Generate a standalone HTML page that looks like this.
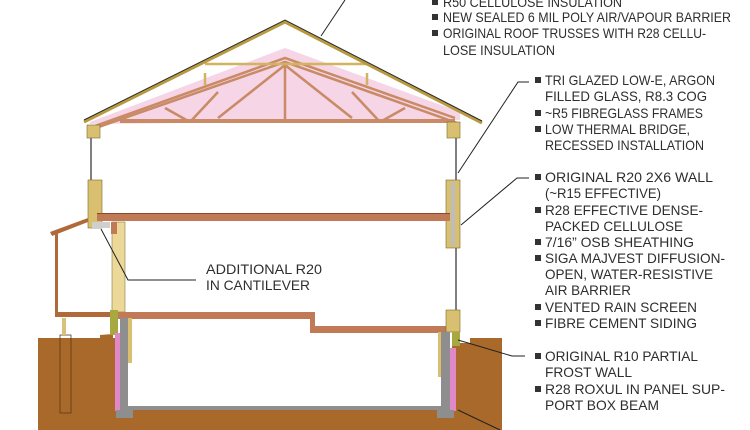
<!DOCTYPE html>
<html><head><meta charset="utf-8"><style>
html,body{margin:0;padding:0;background:#fff;width:750px;height:430px;overflow:hidden}
svg{display:block}
text{font-family:"Liberation Sans",sans-serif;font-size:14px;fill:#2e2e2e}
</style></head><body>
<svg width="750" height="430" viewBox="0 0 750 430" xmlns="http://www.w3.org/2000/svg">
<path d="M38 340 L100 338 L100 335 L113 334 L113 430 Z" fill="#a8692a"/>
<rect x="38" y="338" width="80" height="92" fill="#a8692a"/>
<rect x="110" y="410" width="350" height="20" fill="#a8692a"/>
<path d="M452 343 L470 343 L470 338 L502 338 L502 430 L452 430 Z" fill="#a8692a"/>
<rect x="60" y="335" width="11" height="78" fill="none" stroke="#5a3a1a" stroke-width="0.8"/>
<rect x="62" y="318" width="4" height="17" fill="#d8c278"/>
<path d="M90 122 L285 48 L460 112 L460 120 L90 124 Z" fill="#f2cbe0" opacity="0.8"/>
<rect x="120" y="119" width="335" height="4" fill="#c98a66"/>
<g stroke="#c98a66" stroke-width="2.5" fill="none">
<path d="M285 65 L285 120"/>
<path d="M285 65 L218 118 M285 65 L352 118"/>
<path d="M190 122 L218 92 M165 108 L190 122"/>
<path d="M380 122 L352 92 M405 108 L380 122"/>
<path d="M90 130 L285 62 L460 124"/>
<path d="M95 126 L285 58 L455 118"/>
</g>
<g stroke="#d2b460" stroke-width="2.5" fill="none">
<path d="M205 73 L205 85 M367 73 L367 85 M205 64 L367 64"/>
</g>
<path d="M84 122 L285 22 L482 123" stroke="#b89a40" stroke-width="3" fill="none"/>
<path d="M84 120 L285 20 L482 121" stroke="#2a2a2a" stroke-width="1" fill="none"/>
<rect x="87" y="125" width="13" height="13" fill="#d8c070" stroke="#7a6a30" stroke-width="0.6"/>
<rect x="447" y="122" width="13" height="16" fill="#d8c070" stroke="#7a6a30" stroke-width="0.6"/>
<line x1="91" y1="138" x2="91" y2="180" stroke="#555" stroke-width="1.5"/>
<line x1="456" y1="138" x2="456" y2="180" stroke="#555" stroke-width="1.5"/>
<line x1="456" y1="248" x2="456" y2="310" stroke="#555" stroke-width="1.5"/>
<rect x="88" y="180" width="14" height="48" fill="#d8c070" stroke="#7a6a30" stroke-width="0.6"/>
<rect x="92" y="222" width="18" height="6" fill="#cfcfcf"/>
<rect x="446" y="180" width="14" height="68" fill="#d8c070" stroke="#7a6a30" stroke-width="0.6"/>
<rect x="451" y="182" width="4" height="64" fill="#bdbdbd"/>
<rect x="97" y="213" width="353" height="8" fill="#c07a55"/>
<rect x="97" y="213" width="353" height="1" fill="#8a4a30"/>
<rect x="112" y="222" width="13" height="90" fill="#ecd99a" stroke="#8a7a40" stroke-width="0.6"/>
<rect x="111" y="222" width="6" height="12" fill="#c07a55"/>
<path d="M50 232 L88 218 L88 222 L52 236 Z" fill="#b06a3a"/>
<rect x="55" y="232" width="3" height="82" fill="#b06a3a"/>
<rect x="55" y="312" width="58" height="5" fill="#b06a3a"/>
<rect x="110" y="312" width="205" height="7" fill="#c07a55"/>
<rect x="310" y="312" width="5" height="20" fill="#c07a55"/>
<rect x="310" y="326" width="140" height="7" fill="#c07a55"/>
<rect x="110" y="310" width="8" height="25" fill="#a8a840"/>
<rect x="446" y="310" width="14" height="22" fill="#d8c070" stroke="#7a6a30" stroke-width="0.6"/>
<rect x="452" y="332" width="8" height="14" fill="#a8a840"/>
<rect x="115" y="333" width="6" height="78" fill="#e088c8"/>
<rect x="120" y="318" width="8" height="100" fill="#8e8e8e"/>
<rect x="116" y="410" width="17" height="8" fill="#8e8e8e"/>
<rect x="128" y="318" width="4" height="45" fill="#d8c070"/>
<rect x="441" y="332" width="9" height="86" fill="#8e8e8e"/>
<rect x="450" y="348" width="6" height="63" fill="#e088c8"/>
<rect x="437" y="410" width="17" height="8" fill="#8e8e8e"/>
<rect x="438" y="332" width="3" height="45" fill="#d8c070"/>
<rect x="128" y="406" width="313" height="4" fill="#8e8e8e"/>
<g stroke="#222" stroke-width="1" fill="none">
<path d="M321 36 L345 0"/>
<path d="M458 173 L518 82 L529 82"/>
<path d="M461 225 L517 178 L529 178"/>
<path d="M101 229 L128 280 L196 280"/>
<path d="M458 340 L512 356 L525 356"/>
<path d="M458 410 L500 430"/>
</g>
<g fill="#333">
<rect x="432" y="-1" width="6" height="6"/><rect x="432" y="14" width="6" height="6"/><rect x="432" y="30" width="6" height="6"/>
<rect x="535" y="77" width="6" height="6"/><rect x="535" y="110" width="6" height="6"/><rect x="535" y="126" width="6" height="6"/>
<rect x="535" y="174" width="6" height="6"/><rect x="535" y="207" width="6" height="6"/><rect x="535" y="239" width="6" height="6"/><rect x="535" y="255" width="6" height="6"/><rect x="535" y="304" width="6" height="6"/><rect x="535" y="320" width="6" height="6"/>
<rect x="535" y="353" width="6" height="6"/><rect x="535" y="386" width="6" height="6"/>
</g>
<text x="443" y="7" textLength="179" lengthAdjust="spacingAndGlyphs">R50 CELLULOSE INSULATION</text>
<text x="443" y="22" textLength="288" lengthAdjust="spacingAndGlyphs">NEW SEALED 6 MIL POLY AIR/VAPOUR BARRIER</text>
<text x="443" y="38" textLength="263" lengthAdjust="spacingAndGlyphs">ORIGINAL ROOF TRUSSES WITH R28 CELLU-</text>
<text x="443" y="55" textLength="112" lengthAdjust="spacingAndGlyphs">LOSE INSULATION</text>
<text x="545" y="85" textLength="170" lengthAdjust="spacingAndGlyphs">TRI GLAZED LOW-E, ARGON</text>
<text x="545" y="101" textLength="162" lengthAdjust="spacingAndGlyphs">FILLED GLASS, R8.3 COG</text>
<text x="545" y="118" textLength="158" lengthAdjust="spacingAndGlyphs">~R5 FIBREGLASS FRAMES</text>
<text x="545" y="134" textLength="145" lengthAdjust="spacingAndGlyphs">LOW THERMAL BRIDGE,</text>
<text x="545" y="150" textLength="159" lengthAdjust="spacingAndGlyphs">RECESSED INSTALLATION</text>
<text x="545" y="182" textLength="168" lengthAdjust="spacingAndGlyphs">ORIGINAL R20 2X6 WALL</text>
<text x="545" y="198" textLength="116" lengthAdjust="spacingAndGlyphs">(~R15 EFFECTIVE)</text>
<text x="545" y="215" textLength="158" lengthAdjust="spacingAndGlyphs">R28 EFFECTIVE DENSE-</text>
<text x="545" y="231" textLength="138" lengthAdjust="spacingAndGlyphs">PACKED CELLULOSE</text>
<text x="545" y="247" textLength="149" lengthAdjust="spacingAndGlyphs">7/16” OSB SHEATHING</text>
<text x="545" y="263" textLength="180" lengthAdjust="spacingAndGlyphs">SIGA MAJVEST DIFFUSION-</text>
<text x="545" y="279" textLength="168" lengthAdjust="spacingAndGlyphs">OPEN, WATER-RESISTIVE</text>
<text x="545" y="295" textLength="86" lengthAdjust="spacingAndGlyphs">AIR BARRIER</text>
<text x="545" y="312" textLength="152" lengthAdjust="spacingAndGlyphs">VENTED RAIN SCREEN</text>
<text x="545" y="328" textLength="152" lengthAdjust="spacingAndGlyphs">FIBRE CEMENT SIDING</text>
<text x="545" y="361" textLength="153" lengthAdjust="spacingAndGlyphs">ORIGINAL R10 PARTIAL</text>
<text x="545" y="377" textLength="87" lengthAdjust="spacingAndGlyphs">FROST WALL</text>
<text x="545" y="394" textLength="180" lengthAdjust="spacingAndGlyphs">R28 ROXUL IN PANEL SUP-</text>
<text x="545" y="410" textLength="114" lengthAdjust="spacingAndGlyphs">PORT BOX BEAM</text>
<text x="206" y="274" textLength="116" lengthAdjust="spacingAndGlyphs">ADDITIONAL R20</text>
<text x="206" y="290" textLength="104" lengthAdjust="spacingAndGlyphs">IN CANTILEVER</text>
</svg>
</body></html>
